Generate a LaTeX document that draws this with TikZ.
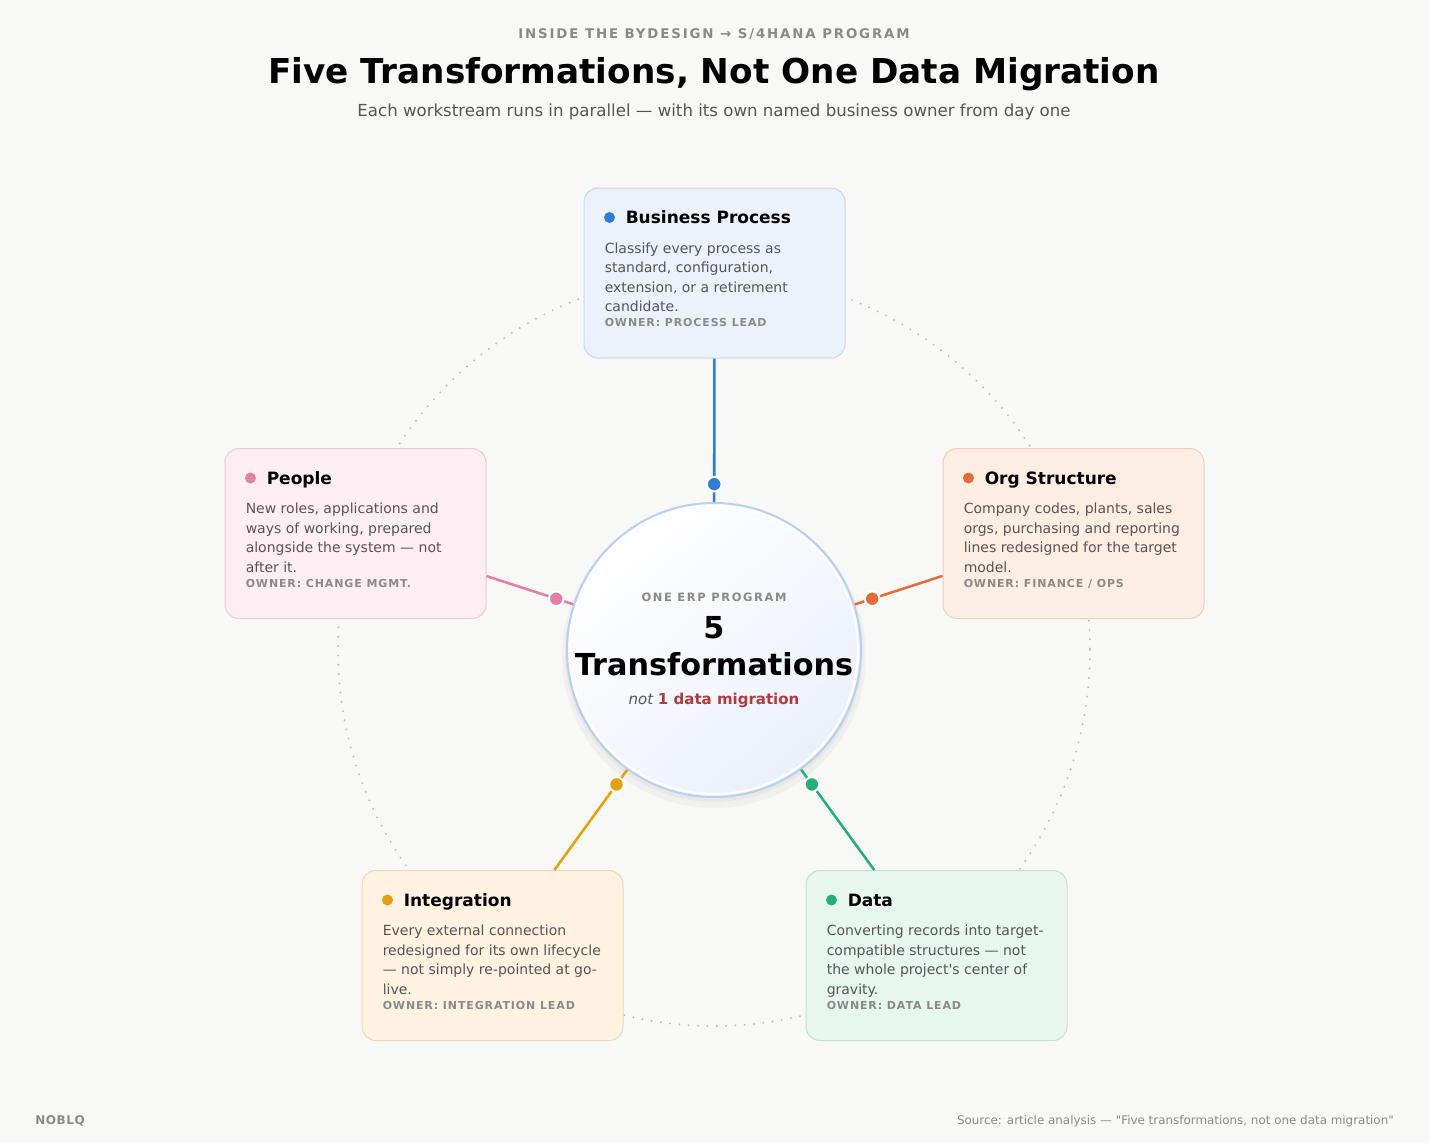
\documentclass[tikz,border=0pt]{standalone}
\usepackage{fontspec}
\setmainfont{DejaVu Sans}
\usetikzlibrary{calc}

\definecolor{pagebg}{HTML}{F8F8F6}
\definecolor{headgray}{HTML}{8A8A85}
\definecolor{subgray}{HTML}{555555}
\definecolor{bodygray}{HTML}{555555}
\definecolor{ownergray}{HTML}{8A8A8A}
\definecolor{ringgray}{HTML}{BDBDB8}
\definecolor{accentred}{HTML}{B23A3A}
\definecolor{hubline}{HTML}{B8CFEE}
\definecolor{hubfill}{HTML}{EAF0FB}
% workstream colours
\definecolor{bpcol}{HTML}{2F7BD8}
\definecolor{bpfill}{HTML}{EBF2FC}
\definecolor{bpedge}{HTML}{C5D7EE}
\definecolor{pplcol}{HTML}{E27FA3}
\definecolor{pplfill}{HTML}{FDEEF3}
\definecolor{ppledge}{HTML}{EFC9D6}
\definecolor{orgcol}{HTML}{E86B3A}
\definecolor{orgfill}{HTML}{FDEEE4}
\definecolor{orgedge}{HTML}{EFCFBE}
\definecolor{intcol}{HTML}{E5A10B}
\definecolor{intfill}{HTML}{FEF2E1}
\definecolor{intedge}{HTML}{EFD9B5}
\definecolor{datcol}{HTML}{23AE7D}
\definecolor{datfill}{HTML}{E7F6EE}
\definecolor{datedge}{HTML}{C2E3D2}

\tikzset{
  card/.style={draw, line width=0.75pt, rounded corners=10.5pt, minimum width=195.75pt,
    minimum height=127.5pt, inner sep=0pt},
  carddot/.style={circle, inner sep=0pt, minimum size=8.25pt},
  cardtitle/.style={anchor=base west, inner sep=0pt, text=black,
    font=\fontsize{12.75}{15}\selectfont\bfseries},
  cardbody/.style={anchor=north west, inner sep=0pt, align=left, text=bodygray,
    font=\fontsize{10.5}{14.6}\selectfont},
  owner/.style={anchor=base west, inner sep=0pt, text=ownergray,
    font=\fontsize{8.25}{10}\selectfont\bfseries\addfontfeature{LetterSpace=8}},
  spoke/.style={line width=1.9pt},
  spokedot/.style={circle, draw=white, line width=1.5pt, inner sep=0pt, minimum size=11pt},
}

\begin{document}
\begin{tikzpicture}[x=0.75pt, y=-0.75pt]
  \useasboundingbox[fill=pagebg] (0,0) rectangle (1429,1143);

  % Heading
  \node[anchor=base, inner sep=0pt, text=headgray,
    font=\fontsize{10}{12}\selectfont\bfseries\addfontfeature{LetterSpace=14}]
    (kicker) at (714,38) {INSIDE THE BYDESIGN → S/4HANA PROGRAM};
  \node[anchor=base, inner sep=0pt, text=black, font=\fontsize{25.7}{30}\selectfont\bfseries]
    (title) at (714,83) {Five Transformations, Not One Data Migration};
  \node[anchor=base, inner sep=0pt, text=subgray, font=\fontsize{12.45}{14}\selectfont]
    (subtitle) at (714,116) {Each workstream runs in parallel — with its own named business owner from day one};

  % Orbit
  \draw[ringgray, line width=1.6pt, line cap=round, dash pattern=on 0pt off 7pt] (714,650) circle[radius=376];

  % Hub
  \fill[black, opacity=0.03] (714,656) circle[radius=152];
  \fill[black, opacity=0.03] (714,653) circle[radius=149];
  \node[circle, draw=hubline, line width=1.5pt, minimum size=220.5pt, inner sep=0pt,
    top color=white, bottom color=hubfill, shading angle=40]
    (hub) at (714,650) {};
  \draw[white, line width=1.5pt] (714,650) circle[radius=144];
  \node[anchor=base, inner sep=0pt, text=headgray,
    font=\fontsize{8.6}{10}\selectfont\bfseries\addfontfeature{LetterSpace=14}]
    (hubkicker) at (714,601) {ONE ERP PROGRAM};
  \node[anchor=base, inner sep=0pt, text=black, font=\fontsize{22.7}{26}\selectfont\bfseries]
    (hubnum) at (714,638) {5};
  \node[anchor=base, inner sep=0pt, text=black, font=\fontsize{22.7}{26}\selectfont\bfseries]
    (hubword) at (714,675) {Transformations};
  \node[anchor=base, inner sep=0pt, font=\fontsize{11.25}{13}\selectfont]
    (hubnote) at (714,704) {\textcolor{subgray}{\itshape not} \textcolor{accentred}{\bfseries 1 data migration}};

  % Cards
  \node[card, draw=bpedge, fill=bpfill] (bp) at (714.5,273) {};
  \node[card, draw=ppledge, fill=pplfill] (ppl) at (355.5,533.5) {};
  \node[card, draw=orgedge, fill=orgfill] (org) at (1073.5,533.5) {};
  \node[card, draw=intedge, fill=intfill] (intg) at (492.5,955.5) {};
  \node[card, draw=datedge, fill=datfill] (data) at (936.5,955.5) {};

  % Business Process
  \node[carddot, fill=bpcol] (bpdot) at ([shift={(26,30)}]bp.north west) {};
  \node[cardtitle] (bptitle) at ([shift={(42,36)}]bp.north west) {Business Process};
  \node[cardbody] (bpbody) at ([shift={(21,55)}]bp.north west)
    {Classify every process as\\standard, configuration,\\extension, or a retirement\\candidate.};
  \node[owner] (bpowner) at ([shift={(21,139)}]bp.north west) {OWNER: PROCESS LEAD};

  % People
  \node[carddot, fill=pplcol] (ppldot) at ([shift={(26,30)}]ppl.north west) {};
  \node[cardtitle] (ppltitle) at ([shift={(42,36)}]ppl.north west) {People};
  \node[cardbody] (pplbody) at ([shift={(21,55)}]ppl.north west)
    {New roles, applications and\\ways of working, prepared\\alongside the system — not\\after it.};
  \node[owner] (pplowner) at ([shift={(21,139)}]ppl.north west) {OWNER: CHANGE MGMT.};

  % Org Structure
  \node[carddot, fill=orgcol] (orgdot) at ([shift={(26,30)}]org.north west) {};
  \node[cardtitle] (orgtitle) at ([shift={(42,36)}]org.north west) {Org Structure};
  \node[cardbody] (orgbody) at ([shift={(21,55)}]org.north west)
    {Company codes, plants, sales\\orgs, purchasing and reporting\\lines redesigned for the target\\model.};
  \node[owner] (orgowner) at ([shift={(21,139)}]org.north west) {OWNER: FINANCE / OPS};

  % Integration
  \node[carddot, fill=intcol] (intdot) at ([shift={(26,30)}]intg.north west) {};
  \node[cardtitle] (inttitle) at ([shift={(42,36)}]intg.north west) {Integration};
  \node[cardbody] (intbody) at ([shift={(21,55)}]intg.north west)
    {Every external connection\\redesigned for its own lifecycle\\— not simply re-pointed at go-\\live.};
  \node[owner] (intowner) at ([shift={(21,139)}]intg.north west) {OWNER: INTEGRATION LEAD};

  % Data
  \node[carddot, fill=datcol] (datdot) at ([shift={(26,30)}]data.north west) {};
  \node[cardtitle] (dattitle) at ([shift={(42,36)}]data.north west) {Data};
  \node[cardbody] (datbody) at ([shift={(21,55)}]data.north west)
    {Converting records into target-\\compatible structures — not\\the whole project\textquotesingle s center of\\gravity.};
  \node[owner] (datowner) at ([shift={(21,139)}]data.north west) {OWNER: DATA LEAD};

  % Spokes
  \draw[spoke, bpcol] (bp) -- (hub);
  \draw[spoke, pplcol] (ppl) -- (hub);
  \draw[spoke, orgcol] (org) -- (hub);
  \draw[spoke, intcol] (intg) -- (hub);
  \draw[spoke, datcol] (data) -- (hub);

  \node[spokedot, fill=bpcol] (bpjoint) at ($(hub.center)!0.44!(bp.center)$) {};
  \node[spokedot, fill=pplcol] (ppljoint) at ($(hub.center)!0.44!(ppl.center)$) {};
  \node[spokedot, fill=orgcol] (orgjoint) at ($(hub.center)!0.44!(org.center)$) {};
  \node[spokedot, fill=intcol] (intjoint) at ($(hub.center)!0.44!(intg.center)$) {};
  \node[spokedot, fill=datcol] (datjoint) at ($(hub.center)!0.44!(data.center)$) {};

  % Footer
  \node[anchor=base west, inner sep=0pt, text=ownergray,
    font=\fontsize{9}{11}\selectfont\bfseries\addfontfeature{LetterSpace=5}]
    (brand) at (35,1124) {NOBLQ};
  \node[anchor=base east, inner sep=0pt, text=ownergray, font=\fontsize{8.93}{11}\selectfont]
    (source) at (1394,1124) {Source: article analysis — \textquotedbl Five transformations, not one data migration\textquotedbl};
\end{tikzpicture}
\end{document}
